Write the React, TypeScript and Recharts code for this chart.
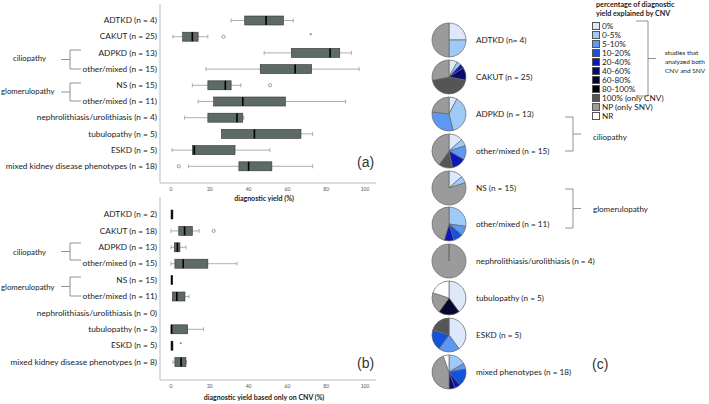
import React from "react";
import { ComposedChart, Bar, XAxis, YAxis, PieChart, Pie, Cell } from "recharts";

const FONT = "Lato, 'Open Sans', sans-serif";

// (a) diagnostic yield (%), box = [min, q1, median, q3, max]
const labelsA = [
  "ADTKD (n = 4)",
  "CAKUT (n = 25)",
  "ADPKD (n = 13)",
  "other/mixed (n = 15)",
  "NS (n = 15)",
  "other/mixed (n = 11)",
  "nephrolithiasis/urolithiasis (n = 4)",
  "tubulopathy (n = 5)",
  "ESKD (n = 5)",
  "mixed kidney disease phenotypes (n = 18)",
];
const boxesA = [
  [31, 38, 49, 58, 63],
  [1, 6, 11, 14, 19],
  [48, 62, 82, 87, 93],
  [18, 46, 64, 72.5, 97],
  [11, 19, 28, 31, 36],
  [14, 22, 37, 59, 90],
  [7, 19, 34, 37, 37.5],
  [26, 26, 43, 67, 73],
  [0.5, 11, 12, 33, 51],
  [9, 35, 40, 52, 73],
];
const circlesA = [[], [27], [], [], [51], [], [], [], [], [4]];
const starsA = [[], [72], [], [], [], [], [], [], [], []];

// (b) diagnostic yield based only on CNV (%)
const labelsB = [
  "ADTKD (n = 2)",
  "CAKUT (n = 18)",
  "ADPKD (n = 13)",
  "other/mixed (n = 15)",
  "NS (n = 15)",
  "other/mixed (n = 11)",
  "nephrolithiasis/urolithiasis (n = 0)",
  "tubulopathy (n = 3)",
  "ESKD (n = 5)",
  "mixed kidney disease phenotypes (n = 8)",
];
const boxesB = [
  [0, 0, 0.5, 1, 1],
  [0, 4, 7, 11, 14.5],
  [0, 1.7, 3.3, 4.6, 7.7],
  [0, 2, 6.3, 19, 34],
  [0, 0, 0.4, 0.8, 0.8],
  [0.7, 0.7, 3, 7.2, 9.3],
  null,
  [0, 0, 0.3, 8.6, 16.7],
  [0, 0, 0.5, 1, 1],
  [1, 2, 5.2, 7.7, 8],
];
const circlesB = [[], [22], [], [], [], [], [], [], [], []];
const starsB = [[], [], [], [], [], [], [], [], [5], []];

const yieldTicks = [0, 20, 40, 60, 80, 100];

// (c) legend categories and study counts per pie (same order as legend)
const legendLabels = [
  "0%",
  "0-5%",
  "5-10%",
  "10-20%",
  "20-40%",
  "40-60%",
  "60-80%",
  "80-100%",
  "100% (only CNV)",
  "NP (only SNV)",
  "NR",
];
const legendColors = [
  "#dde9fb",
  "#9dcaf6",
  "#5d98f2",
  "#1252e0",
  "#0b17b8",
  "#070c6c",
  "#05072e",
  "#000000",
  "#555555",
  "#9b9b9b",
  "#ffffff",
];
const pieLabels = [
  "ADTKD (n= 4)",
  "CAKUT (n = 25)",
  "ADPKD (n = 13)",
  "other/mixed (n = 15)",
  "NS (n = 15)",
  "other/mixed (n = 11)",
  "nephrolithiasis/urolithiasis (n = 4)",
  "tubulopathy (n = 5)",
  "ESKD (n = 5)",
  "mixed phenotypes (n = 18)",
];
const pieCounts = [
  [1, 1, 0, 0, 0, 0, 0, 0, 0, 2, 0],
  [2, 1, 0, 0, 1, 3, 0, 0, 11, 7, 0],
  [1, 5, 4, 0, 0, 0, 0, 0, 0, 3, 0],
  [2, 1, 2, 0, 2, 0, 0, 0, 2, 6, 0],
  [2, 1, 0, 0, 0, 0, 0, 0, 0, 12, 0],
  [0, 3, 1, 1, 1, 0, 0, 0, 0, 5, 0],
  [0, 0, 0, 0, 0, 0, 0, 0, 0, 4, 0],
  [2, 0, 0, 0, 0, 0, 1, 0, 0, 1, 1],
  [2, 0, 1, 1, 0, 0, 0, 0, 1, 0, 0],
  [0, 3, 1, 3, 1, 1, 0, 0, 0, 8, 1],
];

const makeRows = (labels: string[], boxes: any[], circles: number[][], stars: number[][]) =>
  labels.map((name, i) => ({
    name,
    box: boxes[i],
    circles: circles[i],
    stars: stars[i],
    span: [0, 100],
  }));

const rowsA = makeRows(labelsA, boxesA, circlesA, starsA);
const rowsB = makeRows(labelsB, boxesB, circlesB, starsB);

// span bar covers the whole 0-100 domain, so x/width give the axis scale
const BoxShape = (props: any) => {
  const { x, y, width, height, payload } = props;
  const px = (v: number) => x + (v / 100) * width;
  const cy = y + height / 2;
  const b = payload.box;
  return (
    <g>
      {b && (
        <g>
          <line x1={px(b[0])} x2={px(b[1])} y1={cy} y2={cy} stroke="#999" strokeWidth={0.8} />
          <line x1={px(b[3])} x2={px(b[4])} y1={cy} y2={cy} stroke="#999" strokeWidth={0.8} />
          {b[0] < b[1] && (
            <line x1={px(b[0])} x2={px(b[0])} y1={cy - 2} y2={cy + 2} stroke="#999" strokeWidth={0.8} />
          )}
          {b[4] > b[3] && (
            <line x1={px(b[4])} x2={px(b[4])} y1={cy - 2} y2={cy + 2} stroke="#999" strokeWidth={0.8} />
          )}
          <rect
            x={px(b[1])}
            y={y}
            width={Math.max(px(b[3]) - px(b[1]), 1)}
            height={height}
            fill="#5e6a65"
            stroke="#333"
            strokeWidth={0.6}
          />
          <line x1={px(b[2])} x2={px(b[2])} y1={y} y2={y + height} stroke="#000" strokeWidth={1.6} />
        </g>
      )}
      {payload.circles.map((v: number, i: number) => (
        <circle key={"c" + i} cx={px(v)} cy={cy} r={1.6} fill="#fff" stroke="#777" strokeWidth={0.7} />
      ))}
      {payload.stars.map((v: number, i: number) => (
        <text key={"s" + i} x={px(v)} y={cy + 2.5} fontSize={7} fill="#555" textAnchor="middle" fontFamily={FONT}>
          *
        </text>
      ))}
    </g>
  );
};

const CategoryTick = ({ x, y, payload }: any) => (
  <text
    x={x}
    y={y}
    textAnchor="end"
    dominantBaseline="central"
    fontSize={8.3}
    fill="#222"
    fontFamily={FONT}
  >
    {payload.value}
  </text>
);

const BoxPlot = ({ rows, height, top, padTop, padBottom }: any) => (
  <ComposedChart
    width={380}
    height={height}
    layout="vertical"
    data={rows}
    margin={{ top, right: 4, bottom: 7, left: 0 }}
  >
    <XAxis
      type="number"
      domain={[0, 100]}
      ticks={yieldTicks}
      height={10}
      padding={{ left: 11, right: 11 }}
      tickLine={false}
      tickSize={3}
      tickMargin={1}
      axisLine={{ stroke: "#bbb" }}
      tick={{ fontSize: 5, fill: "#555", fontFamily: FONT }}
    />
    <YAxis
      type="category"
      dataKey="name"
      width={160}
      padding={{ top: padTop, bottom: padBottom }}
      tickLine={false}
      tickSize={2}
      tickMargin={1}
      interval={0}
      axisLine={{ stroke: "#bbb" }}
      tick={<CategoryTick />}
    />
    <Bar dataKey="span" barSize={9} shape={BoxShape} isAnimationActive={false} />
  </ComposedChart>
);

const Bracket = ({ x, y1, y2, left, right }: any) => (
  <g stroke="#777" strokeWidth={0.8} fill="none">
    <line x1={x} x2={x} y1={y1} y2={y2} />
    <line x1={x} x2={x + left} y1={y1} y2={y1} />
    <line x1={x} x2={x + left} y1={y2} y2={y2} />
    <line x1={x} x2={x + right} y1={(y1 + y2) / 2} y2={(y1 + y2) / 2} />
  </g>
);

const PieRow = ({ counts, label }: any) => {
  const data = counts
    .map((value: number, i: number) => ({ value, color: legendColors[i], name: legendLabels[i] }))
    .filter((d: any) => d.value > 0);
  return (
    <div style={{ height: 36.9, display: "flex", alignItems: "center" }}>
      <PieChart width={36} height={36} margin={{ top: 0, right: 0, bottom: 0, left: 0 }}>
        <Pie
          data={data}
          dataKey="value"
          cx="50%"
          cy="50%"
          outerRadius={17}
          startAngle={90}
          endAngle={-270}
          stroke="#666"
          strokeWidth={0.7}
          isAnimationActive={false}
        >
          {data.map((d: any, i: number) => (
            <Cell key={i} fill={d.color} />
          ))}
        </Pie>
      </PieChart>
      <span style={{ marginLeft: 9, fontSize: 8.2, color: "#222", whiteSpace: "nowrap" }}>{label}</span>
    </div>
  );
};

export default function App() {
  return (
    <div
      style={{
        position: "absolute",
        left: 0,
        top: 0,
        width: 709,
        height: 404,
        background: "#fff",
        overflow: "hidden",
        fontFamily: FONT,
      }}
    >
      <div style={{ position: "absolute", left: 0, top: 0 }}>
        <BoxPlot rows={rowsA} height={200} top={4} padTop={8} padBottom={9} />
      </div>
      <div style={{ position: "absolute", left: 0, top: 190 }}>
        <BoxPlot rows={rowsB} height={207} top={7} padTop={9} padBottom={10} />
      </div>

      <div style={{ position: "absolute", left: 431, top: 21.5 }}>
        {pieCounts.map((c, i) => (
          <PieRow key={i} counts={c} label={pieLabels[i]} />
        ))}
      </div>

      <div style={{ position: "absolute", left: 592, top: 21 }}>
        {legendLabels.map((l, i) => (
          <div key={l} style={{ height: 9.1, display: "flex", alignItems: "center" }}>
            <div
              style={{
                width: 6,
                height: 6,
                background: legendColors[i],
                border: "0.8px solid #555",
                marginRight: 2,
              }}
            />
            <span style={{ fontSize: 8.2, color: "#222", whiteSpace: "nowrap" }}>{l}</span>
          </div>
        ))}
      </div>

      <svg
        width={709}
        height={404}
        style={{ position: "absolute", left: 0, top: 0, pointerEvents: "none" }}
        fontFamily={FONT}
      >
        <g fontSize={7.8} fill="#222" dominantBaseline="central">
          <text x={46} y={58} textAnchor="end">ciliopathy</text>
          <text x={1} y={91}>glomerulopathy</text>
          <text x={46} y={252} textAnchor="end">ciliopathy</text>
          <text x={1} y={287}>glomerulopathy</text>
        </g>
        <Bracket x={70} y1={50} y2={69} left={11} right={-9} />
        <Bracket x={70} y1={83} y2={101} left={11} right={-9} />
        <Bracket x={70} y1={243} y2={260} left={11} right={-9} />
        <Bracket x={70} y1={277} y2={296} left={11} right={-9} />

        <g fontSize={7} fontWeight="bold" fill="#222" textAnchor="middle" dominantBaseline="central">
          <text x={264} y={197.5}>diagnostic yield (%)</text>
          <text x={264} y={397}>diagnostic yield based only on CNV (%)</text>
        </g>
        <g fontSize={14} fill="#333" fontFamily="'Liberation Sans', Arial, sans-serif" dominantBaseline="central">
          <text x={357} y={162}>(a)</text>
          <text x={357} y={363}>(b)</text>
          <text x={592} y={364}>(c)</text>
        </g>

        <g fontSize={7.2} fontWeight="bold" fill="#222" dominantBaseline="central">
          <text x={596} y={4.5}>percentage of diagnostic</text>
          <text x={596} y={13.5}>yield explained by CNV</text>
        </g>
        <Bracket x={648} y1={21} y2={96} left={-12} right={8} />
        <g fontSize={6.5} fill="#222" dominantBaseline="central">
          <text x={665} y={52}>studies that</text>
          <text x={665} y={61}>analyzed both</text>
          <text x={665} y={70}>CNV and SNV</text>
        </g>

        <Bracket x={573} y1={117} y2={151} left={-8} right={8} />
        <Bracket x={573} y1={189} y2={228} left={-8} right={8} />
        <g fontSize={8} fill="#222" dominantBaseline="central">
          <text x={593} y={137}>ciliopathy</text>
          <text x={593} y={209}>glomerulopathy</text>
        </g>
      </svg>
    </div>
  );
}
